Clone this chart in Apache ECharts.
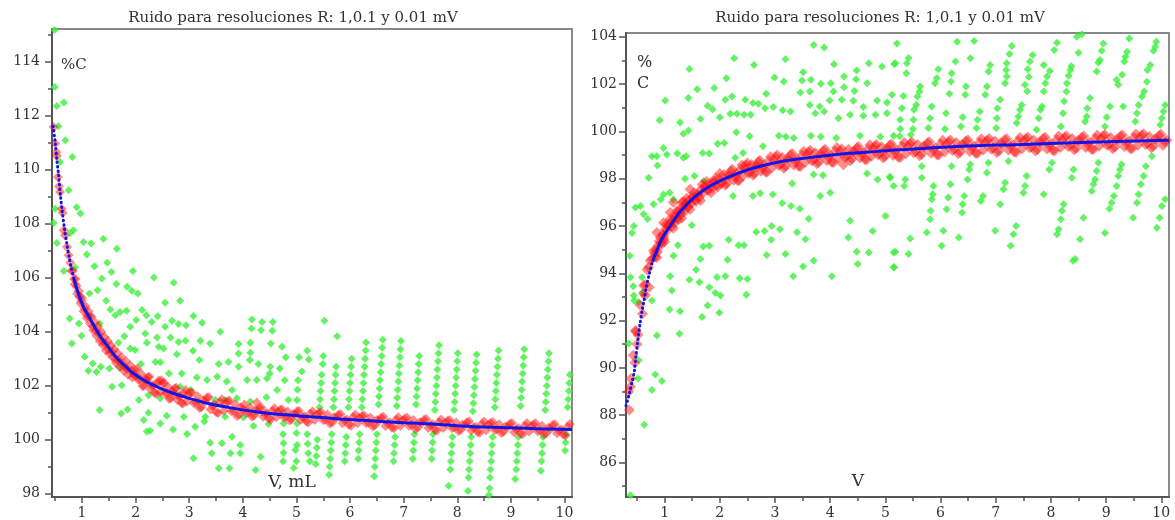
<!DOCTYPE html>
<html>
<head>
<meta charset="utf-8">
<script src="https://cdn.jsdelivr.net/npm/echarts@6/dist/echarts.min.js"></script>
<style>html,body{margin:0;padding:0;background:#fff}#c{width:1175px;height:520px}</style>
</head>
<body>
<div id="c"></div>
<script>
var titleText = 'Ruido para resoluciones R: 1,0.1 y 0.01 mV';
var xTicks = [1,2,3,4,5,6,7,8,9,10];
var yTicksLeft = [98,100,102,104,106,108,110,112,114];
var yTicksRight = [86,88,90,92,94,96,98,100,102,104];

// Left chart: resolution 1 mV (green)
var greenLeft = [
[0.49,115.16],[0.49,113.05],[0.53,112.35],[0.66,112.48],[0.56,111.6],[0.69,111.08],[0.82,110.46],[0.59,110.28],
[0.75,109.23],[0.5,108.55],[0.9,108.6],[0.97,108.37],[0.47,108.02],[0.84,107.75],[0.78,107.65],[0.53,107.28],[1.03,107.32],[1.17,107.26],[1.4,107.44],[1.65,107.07],[1.09,106.85],[0.66,106.24],[0.87,106.37],[1.23,106.42],[1.47,106.55],[1.55,106.21],[1.95,106.24],[1.37,105.97],[2.34,106.0],[2.71,105.81],[1.64,105.76],[1.84,105.66],[1.93,105.51],[2.04,105.41],[1.14,105.41],[1.29,105.53],[1.45,105.14],[2.55,105.07],[2.83,105.14],[1.53,104.82],[1.71,104.73],[1.83,104.77],[1.62,104.61],[2.12,104.8],[2.2,104.61],[2.41,104.57],[3.08,104.58],[0.77,104.49],[0.94,104.3],[1.33,104.3],[2.01,104.43],[2.3,104.36],[2.68,104.4],[2.8,104.28],[2.94,104.24],[3.24,104.33],[3.58,104.0],[1.9,104.18],[0.99,103.85],[2.55,104.18],[1.79,103.83],[2.18,103.93],[2.4,103.78],[2.65,103.78],[2.8,103.62],[2.93,103.66],[3.21,103.66],[3.39,103.56],[4.17,104.45],[4.36,104.36],[4.56,104.36],[4.16,104.12],[4.34,104.05],[4.55,104.03],[0.81,103.56],[1.68,103.59],[1.9,103.38],[1.99,103.32],[2.21,103.59],[2.43,103.44],[2.52,103.38],[2.77,103.16],[3.07,103.29],[3.19,102.95],[3.55,102.8],[3.73,102.88],[3.92,103.54],[4.14,103.59],[4.52,103.56],[4.73,103.44],[3.92,103.19],[4.14,103.22],[4.29,102.8],[4.51,102.7],[4.69,102.64],[3.92,102.7],[4.13,102.95],[4.5,102.45],[5.2,103.29],[5.23,102.97],[5.1,102.52],[1.05,103.07],[1.2,102.82],[1.12,102.55],[1.27,102.51],[1.35,102.7],[1.51,102.64],[1.71,102.67],[2.1,102.8],[2.37,102.88],[2.46,102.87],[2.62,102.45],[2.86,102.45],[3.14,102.3],[3.33,102.21],[3.52,102.33],[3.7,102.15],[3.8,101.84],[4.08,102.21],[4.26,102.21],[4.45,102.27],[4.64,101.84],[1.56,101.96],[1.74,102.02],[2.06,101.47],[2.24,101.65],[2.46,101.53],[2.83,101.96],[3.02,101.84],[3.17,101.41],[3.49,101.47],[3.67,101.47],[3.89,101.53],[4.14,101.41],[4.44,101.57],[4.85,101.47],[5.01,101.47],[1.33,101.1],[1.73,100.97],[1.85,101.12],[2.24,101.0],[2.58,100.89],[2.9,100.85],[3.3,100.85],[3.67,100.85],[4.01,100.83],[4.2,100.51],[4.48,100.58],[4.76,100.6],[5.01,100.6],[2.15,100.73],[2.46,100.6],[2.21,100.3],[2.27,100.33],[2.7,100.38],[2.96,100.21],[3.11,100.48],[3.28,100.67],[3.39,99.89],[3.61,99.87],[3.8,100.11],[3.95,99.8],[4.76,99.87],[5.01,99.8],[4.98,99.62],[4.76,99.52],[3.77,99.5],[3.95,99.5],[3.42,99.5],[4.33,99.37],[3.08,99.31],[3.55,98.94],[3.75,98.94],[4.24,98.88],[4.8,103.05],[4.78,102.2],[5.05,103.05],[5.03,102.2],[5.02,101.85],[4.75,100.2],[5.0,100.25],[4.75,99.2],[5.0,99.2],[4.95,98.95],[5.25,99.2],[5.22,99.5],[5.2,100.2],[5.21,99.85],
[5.52,104.4],[5.76,103.83],
[5.5,103.1],[5.49,102.8],[5.47,102.4],[5.46,102.1],[5.45,101.8],[5.44,101.5],[5.43,101.2],[5.39,100.0],[5.38,99.7],[5.37,99.4],[5.36,99.1],
[5.74,102.7],[5.73,102.4],[5.72,102.1],[5.71,101.8],[5.7,101.5],[5.69,101.2],[5.66,100.2],[5.65,99.9],[5.64,99.6],[5.63,99.3],[5.62,99.0],[5.61,98.7],
[6.03,103.0],[6.02,102.7],[6.01,102.4],[6.0,102.1],[5.99,101.8],[5.98,101.5],[5.97,101.2],[5.93,100.1],[5.92,99.8],[5.91,99.5],[5.9,99.2],
[6.3,103.6],[6.29,103.3],[6.28,103.0],[6.27,102.7],[6.26,102.4],[6.25,102.1],[6.24,101.8],[6.23,101.5],[6.22,101.2],[6.18,100.2],[6.17,99.9],[6.16,99.6],[6.15,99.3],
[6.61,103.7],[6.6,103.4],[6.59,103.1],[6.58,102.8],[6.57,102.5],[6.56,102.2],[6.55,101.9],[6.54,101.6],[6.53,101.3],[6.5,100.2],[6.49,99.9],[6.48,99.6],[6.47,99.3],[6.46,99.0],[6.45,98.65],
[6.95,103.65],[6.94,103.35],[6.93,103.05],[6.92,102.75],[6.91,102.45],[6.9,102.15],[6.89,101.85],[6.88,101.55],[6.87,101.25],[6.84,100.1],[6.83,99.8],[6.82,99.5],[6.81,99.2],
[7.29,103.1],[7.28,102.8],[7.27,102.5],[7.26,102.2],[7.25,101.9],[7.24,101.6],[7.23,101.3],[7.2,100.2],[7.19,99.9],[7.18,99.6],[7.17,99.3],
[7.66,103.5],[7.65,103.2],[7.64,102.9],[7.63,102.6],[7.62,102.3],[7.61,102.0],[7.6,101.7],[7.59,101.4],[7.58,101.1],[7.55,100.2],[7.54,99.9],[7.53,99.6],[7.52,99.3],
[8.01,103.2],[8.0,102.9],[7.99,102.6],[7.98,102.3],[7.97,102.0],[7.96,101.7],[7.95,101.4],[7.94,101.1],[7.91,100.1],[7.9,99.8],[7.89,99.5],[7.88,99.2],[7.87,98.9],[7.84,98.3],
[8.36,103.15],[8.35,102.85],[8.34,102.55],[8.33,102.25],[8.32,101.95],[8.31,101.65],[8.3,101.35],[8.29,101.05],[8.26,100.1],[8.25,99.8],[8.24,99.5],[8.23,99.2],[8.22,98.9],[8.21,98.6],[8.2,98.1],
[8.77,103.3],[8.76,103.0],[8.75,102.7],[8.74,102.4],[8.73,102.1],[8.72,101.8],[8.71,101.5],[8.7,101.2],[8.66,100.1],[8.65,99.8],[8.64,99.5],[8.63,99.2],[8.62,98.9],[8.61,98.6],[8.6,98.2],[8.59,97.95],
[9.25,103.35],[9.24,103.05],[9.23,102.75],[9.22,102.45],[9.21,102.15],[9.2,101.85],[9.19,101.55],[9.18,101.25],[9.14,100.1],[9.13,99.8],[9.12,99.5],[9.11,99.2],[9.1,98.9],[9.08,98.55],
[9.71,103.2],[9.7,102.9],[9.69,102.6],[9.68,102.3],[9.67,102.0],[9.66,101.7],[9.65,101.4],[9.64,101.1],[9.6,100.1],[9.59,99.8],[9.58,99.5],[9.57,99.2],[9.56,98.85],
[10.1,102.4],[10.09,102.1],[10.08,101.8],[10.07,101.5],[10.06,101.2],[10.03,100.2],[10.02,99.9],[10.01,99.6]
];

// Left chart: resolution 0.1 mV (red)
var redLeft = [
[0.47,111.57],[0.5,110.96],[0.52,110.65],[0.53,110.5],[0.55,109.72],[0.57,109.38],[0.59,109.17],[0.62,108.55],[0.64,108.4],[0.66,107.75],[0.68,107.57],[0.72,107.13],[0.75,106.83],[0.78,106.55],[0.8,106.25],
[0.83,106.25],[0.86,105.75],[0.88,105.95],[0.91,105.4],[0.94,105.5],[0.97,105.05],[1.0,105.25],[1.03,104.75],[1.06,104.95],[1.09,104.5],[1.12,104.75],[1.15,104.3],[1.18,104.55],[1.21,104.05],[1.24,104.35],[1.27,103.85],[1.3,104.2],[1.33,103.65],[1.36,104.0],[1.39,103.5],[1.42,103.8],[1.45,103.3],[1.48,103.65],[1.51,103.2],[1.54,103.5],[1.57,103.05],[1.6,103.35],[1.63,102.85],[1.66,103.2],[1.7,102.7],[1.74,103.05],[1.78,102.55],[1.82,102.9],[1.86,102.4],[1.9,102.75],[1.94,102.3],[1.98,102.6],
[0.85,105.95],[0.9,105.7],[0.95,105.3],[0.99,105.15],[1.05,104.85],[1.1,104.6],[1.14,104.55],[1.2,104.2],[1.26,104.05],[1.32,103.9],[1.38,103.65],[1.44,103.55],[1.5,103.35],[1.56,103.25],[1.62,103.0],[1.68,102.95],[1.72,102.85],[1.8,102.7],[1.84,102.62],[1.92,102.55],[1.96,102.42],[2.0,102.38],
[2.03,102.63],[2.08,102.23],[2.13,101.98],[2.18,102.25],[2.23,102.32],[2.28,101.87],[2.33,102.02],[2.38,101.7],[2.43,102.19],[2.48,102.2],[2.53,102.11],[2.58,101.73],[2.63,101.51],[2.68,101.8],[2.73,101.9],[2.78,101.47],[2.83,101.64],[2.88,101.33],[2.93,101.84],[2.98,101.65],[3.05,101.76],[3.12,101.38],[3.19,101.17],[3.26,101.46],[3.33,101.56],[3.4,101.12],[3.47,101.3],[3.54,100.99],[3.61,101.5],[3.68,101.32],[3.75,101.45],[3.82,101.08],[3.89,100.88],[3.96,101.19],
[2.055,102.21],[2.105,102.43],[2.155,102.0],[2.205,102.17],[2.255,102.33],[2.305,102.0],[2.355,101.74],[2.405,102.09],[2.455,101.76],[2.505,102.08],[2.555,101.7],[2.605,101.95],[2.655,101.54],[2.705,101.75],[2.755,101.92],[2.805,101.61],[2.855,101.37],[2.905,101.73],[2.955,101.41],[3.015,101.74],[3.085,101.35],[3.155,101.61],[3.225,101.2],[3.295,101.41],[3.365,101.57],[3.435,101.26],[3.505,101.02],[3.575,101.39],[3.645,101.07],[3.715,101.42],[3.785,101.05],[3.855,101.31],[3.925,100.92],[3.995,101.14],
[4.03,101.3],[4.1,101.02],[4.17,100.86],[4.24,101.09],[4.26,101.38],[4.31,101.17],[4.38,100.85],[4.45,100.99],[4.52,100.75],[4.59,101.16],[4.66,101.02],[4.73,101.13],[4.8,100.86],[4.87,100.71],[4.94,100.95],[5.01,101.04],[5.08,100.73],[5.15,100.87],[5.22,100.64],[5.3,101.05],[5.38,100.92],[5.46,101.03],[5.54,100.75],[5.62,100.6],[5.7,100.83],[5.78,100.92],[5.86,100.61],[5.94,100.75],[6.02,100.52],[6.1,100.93],[6.18,100.8],[6.26,100.91],[6.34,100.64],[6.42,100.49],[6.5,100.73],[6.58,100.82],[6.66,100.51],[6.74,100.65],[6.82,100.42],[6.9,100.83],[6.98,100.71],[7.06,100.82],[7.14,100.55],[7.22,100.4],[7.3,100.65],[7.38,100.74],[7.46,100.43],[7.54,100.57],[7.62,100.34],[7.7,100.75],[7.78,100.62],[7.86,100.73],[7.94,100.46],[8.02,100.32],[8.1,100.56],[8.18,100.65],[8.26,100.34],[8.34,100.48],[8.42,100.26],[8.5,100.67],[8.58,100.54],[8.66,100.66],[8.74,100.39],[8.82,100.25],[8.9,100.49],[8.98,100.59],[9.06,100.28],[9.14,100.43],[9.22,100.2],[9.3,100.62],[9.38,100.49],[9.46,100.61],[9.54,100.34],[9.62,100.2],[9.7,100.44],[9.78,100.54],[9.86,100.24],[9.94,100.38],[10.02,100.16],[10.1,100.58],
[4.065,100.99],[4.135,101.19],[4.205,100.89],[4.275,101.05],[4.345,101.19],[4.415,100.96],[4.485,100.78],[4.555,101.07],[4.625,100.83],[4.695,101.1],[4.765,100.83],[4.835,101.04],[4.905,100.75],[4.975,100.92],[5.045,101.07],[5.115,100.84],[5.185,100.67],[5.26,100.96],[5.34,100.73],[5.42,101.0],[5.5,100.72],[5.58,100.93],[5.66,100.63],[5.74,100.8],[5.82,100.95],[5.9,100.72],[5.98,100.55],[6.06,100.84],[6.14,100.61],[6.22,100.88],[6.3,100.61],[6.38,100.82],[6.46,100.53],[6.54,100.7],[6.62,100.85],[6.7,100.62],[6.78,100.45],[6.86,100.74],[6.94,100.51],[7.02,100.78],[7.1,100.52],[7.18,100.73],[7.26,100.44],[7.34,100.62],[7.42,100.77],[7.5,100.54],[7.58,100.37],[7.66,100.66],[7.74,100.43],[7.82,100.7],[7.9,100.43],[7.98,100.64],[8.06,100.36],[8.14,100.53],[8.22,100.68],[8.3,100.45],[8.38,100.28],[8.46,100.58],[8.54,100.35],[8.62,100.62],[8.7,100.36],[8.78,100.57],[8.86,100.29],[8.94,100.46],[9.02,100.62],[9.1,100.39],[9.18,100.23],[9.26,100.52],[9.34,100.3],[9.42,100.57],[9.5,100.31],[9.58,100.52],[9.66,100.24],[9.74,100.41],[9.82,100.57],[9.9,100.34],[9.98,100.18],[10.06,100.48]
];

// Left chart: resolution 0.01 mV (blue)
var blueLeftDots = [[0.46,111.6],[0.5,111.0],[0.53,110.35],[0.56,109.85],[0.6,109.0],[0.63,108.45],[0.67,107.85],[0.72,107.2],[0.76,106.75],[0.8,106.35],[0.84,106.03]];
var blueLeft = [[0.84,106.03],[0.9,105.6],[0.96,105.25],[1.03,104.9],[1.1,104.65],[1.15,104.48],[1.25,104.12],[1.35,103.8],[1.5,103.4],[1.65,103.02],[1.8,102.73],[1.96,102.45],[2.2,102.15],[2.4,101.96],[2.7,101.72],[3.0,101.53],[3.4,101.32],[3.83,101.16],[4.3,101.02],[4.8,100.92],[5.26,100.85],[5.8,100.77],[6.3,100.71],[7.0,100.63],[7.5,100.58],[8.0,100.52],[8.5,100.47],[9.0,100.44],[9.5,100.41],[10.14,100.38]];

// Right chart: resolution 1 mV (green)
var greenRight = [
[3.7,103.65],[3.89,103.55],[5.21,103.72],[2.26,103.09],[3.19,103.05],[2.62,102.81],[1.45,102.64],[4.07,102.84],[4.7,102.88],[4.94,102.74],[5.16,102.85],[3.51,102.5],[2.99,102.28],[3.16,102.11],[2.12,102.25],[3.49,102.15],[3.65,102.18],[3.83,102.01],[4.01,102.04],[4.25,102.32],[4.48,102.57],[4.47,102.2],[4.67,102.04],[1.59,101.78],[1.9,101.83],[3.46,101.64],[3.63,101.69],[4.06,101.69],[4.25,101.87],[4.44,101.71],[2.84,101.59],[1.01,101.31],[1.43,101.41],[2.1,101.34],[2.22,101.48],[2.46,101.34],[2.6,101.2],[2.7,101.17],[2.82,100.98],[2.97,101.03],[3.14,100.89],[3.28,100.84],[3.63,101.12],[3.81,101.05],[3.99,101.31],[4.21,101.34],[4.42,101.29],[4.6,101.03],[4.85,101.31],[5.03,101.22],[1.78,101.08],[1.87,100.94],[2.19,100.75],[2.31,100.75],[2.44,100.7],[2.56,100.7],[1.28,100.38],[0.91,100.47],[1.65,100.52],[2.0,100.6],[3.73,100.77],[3.89,100.84],[4.15,100.56],[4.36,100.7],[4.6,100.66],[4.82,100.7],[5.03,100.77],[1.34,99.9],[1.43,100.04],[1.96,99.48],[2.08,99.51],[2.3,99.96],[2.54,99.79],[3.07,99.82],[3.2,99.77],[3.34,99.72],[3.65,99.82],[3.83,99.77],[4.11,99.72],[4.54,99.82],[4.91,99.77],[5.15,99.82],[2.78,99.37],[0.98,99.3],[0.77,98.95],[0.86,98.95],[1.04,99.02],[1.23,99.06],[1.34,98.88],[1.39,98.95],[1.69,99.09],[1.81,99.06],[2.28,98.88],[2.42,99.09],[0.87,98.56],[1.37,98.0],[1.54,98.11],[1.71,97.9],[3.7,98.18],[3.87,98.14],[4.67,98.22],[4.86,97.97],[5.08,98.08],[0.71,98.04],[0.98,97.33],[0.93,97.12],[1.09,97.41],[1.16,97.12],[0.8,96.92],[0.56,96.85],[0.47,96.78],[0.62,96.5],[0.69,96.29],[0.44,96.0],[0.41,95.7],[0.37,94.74],[1.49,96.03],[2.24,97.27],[2.6,97.27],[2.73,97.38],[2.96,97.33],[3.13,96.96],[3.29,96.85],[3.45,96.73],[3.61,96.31],[3.31,97.8],[3.82,97.27],[4.0,97.41],[2.66,95.75],[2.81,95.79],[2.94,96.0],[3.09,95.86],[3.4,95.73],[3.55,95.44],[2.93,95.42],[2.34,95.19],[2.16,95.42],[1.81,95.16],[1.7,95.13],[1.24,95.19],[1.16,94.74],[1.65,94.6],[2.14,94.57],[2.44,95.19],[2.85,94.77],[3.19,94.81],[4.36,96.22],[4.33,95.51],[4.77,95.79],[5.0,96.42],[5.15,94.88],[4.48,94.91],[4.7,94.88],[5.15,94.25],[4.5,94.39],[3.7,94.53],[3.51,94.29],[3.33,93.87],[4.03,93.87],[1.57,94.15],[1.45,93.73],[1.63,93.62],[1.1,93.87],[1.95,93.83],[2.1,93.87],[2.36,93.79],[2.5,93.76],[1.81,93.41],[1.92,93.17],[2.01,93.06],[2.48,93.09],[1.13,93.27],[1.78,92.64],[1.09,92.47],[1.28,92.39],[1.68,92.15],[1.99,92.33],[0.44,93.06],[0.53,92.78],[0.77,92.85],[0.59,93.83],[0.86,91.37],[1.27,91.44],[0.35,91.03],
[0.53,90.32],[0.52,89.55],[0.83,89.72],[0.95,89.44],[0.77,89.06],[0.63,87.59],[0.38,84.61],[0.6,93.2],[0.38,93.83],[0.43,93.45],[0.45,92.85],[8.4,94.53],
[6.3,103.79],[6.61,103.82],[8.56,104.11],[9.42,103.93],[9.91,103.79],[9.89,103.58],[9.86,103.41],[7.29,103.61],[7.25,103.27],[8.11,103.75],[8.06,103.44],[7.67,103.23],[7.62,102.95],[7.58,102.63],[8.5,103.33],[8.95,103.72],[8.92,103.41],[8.89,103.02],[8.86,102.91],[8.83,102.53],[9.38,103.37],[9.35,103.16],[9.33,102.95],[9.29,102.39],[9.22,101.97],[9.8,102.81],[9.75,102.6],[9.74,102.1],[9.69,101.69],[9.65,101.47],[9.59,101.12],[9.56,100.77],[9.53,100.42],[10.07,101.12],[10.04,100.84],[10.01,100.56],[9.98,100.28],[5.18,102.88],[5.39,102.88],[5.42,103.1],[5.38,102.46],[5.12,101.55],[5.33,101.5],[5.3,100.98],[5.27,100.49],[5.27,100.1],[5.26,99.79],[5.63,101.9],[5.62,101.69],[5.58,101.47],[5.56,101.12],[5.52,100.91],[5.51,100.49],[5.5,100.1],[5.46,99.86],[5.96,102.63],[5.93,102.25],[5.9,102.04],[5.84,101.05],[5.81,100.56],[5.78,100.14],[6.2,102.46],[6.19,102.11],[6.16,101.59],[6.1,100.77],[6.08,100.1],[6.27,102.95],[6.54,103.09],[6.46,101.9],[6.45,101.55],[6.4,100.6],[6.37,100.21],[6.9,102.81],[6.87,102.53],[6.84,101.9],[6.81,101.55],[6.71,100.84],[6.67,100.49],[6.65,100.14],[7.2,102.32],[7.17,102.04],[7.08,101.34],[7.03,100.98],[7.02,100.56],[7.01,100.14],[7.47,101.12],[7.44,100.91],[7.41,100.63],[7.38,100.35],[7.53,101.97],[7.87,102.81],[7.93,102.32],[7.9,102.04],[7.87,101.69],[7.84,101.05],[7.81,100.91],[7.78,100.56],[7.74,100.07],[8.32,102.35],[8.29,102.04],[8.28,101.69],[8.24,101.27],[8.22,100.77],[8.18,100.21],[8.71,101.41],[8.66,100.98],[8.65,100.63],[8.62,100.42],[9.19,102.18],[9.07,101.05],[9.01,100.6],[8.98,100.21],[9.31,101.05],[8.47,104.0],[7.2,102.88],[7.19,102.6],[7.6,102.3],[7.57,101.7],[7.98,102.55],[8.37,102.75],[8.35,102.6],
[5.09,98.04],[5.15,97.69],[5.36,97.97],[5.34,97.69],[5.66,98.53],[5.66,98.04],[5.87,97.69],[5.86,97.34],[5.84,97.13],[5.82,96.64],[5.81,96.28],[5.75,95.72],[6.02,95.16],[6.05,95.8],[6.11,96.71],[6.14,97.2],[6.18,97.76],[6.2,98.53],[6.33,95.51],[6.39,96.57],[6.4,96.92],[6.43,97.27],[6.49,97.97],[6.52,98.39],[6.54,98.6],[6.73,97.06],[6.77,97.27],[6.84,98.25],[6.87,98.67],[6.99,95.8],[7.08,96.92],[7.14,97.55],[7.17,97.83],[7.23,98.74],[7.27,95.16],[7.32,95.65],[7.37,96.0],[7.5,97.41],[7.53,97.69],[7.56,98.11],[7.87,97.34],[7.97,98.39],[8.02,98.67],[8.11,95.65],[8.14,95.86],[8.18,96.28],[8.2,96.64],[8.23,96.92],[8.38,98.04],[8.41,98.39],[8.44,94.6],[8.53,95.44],[8.59,96.35],[8.74,97.48],[8.77,97.76],[8.8,97.97],[8.83,98.32],[8.86,98.67],[8.98,95.7],[9.06,96.73],[9.1,96.98],[9.14,97.27],[9.19,97.69],[9.22,98.11],[9.25,98.39],[9.28,98.6],[9.49,96.35],[9.56,96.98],[9.59,97.34],[9.63,97.76],[9.68,98.11],[9.72,98.53],[9.92,95.93],[9.97,96.35],[10.01,96.84],[10.07,97.13],[9.83,98.95],[5.45,95.47],[5.18,94.91],[5.42,94.81],[5.16,94.25]
];

// Right chart: resolution 0.1 mV (red)
var redRight = [
[0.36,88.22],[0.35,88.99],[0.38,89.2],[0.39,89.55],[0.43,90.53],[0.46,90.22],[0.48,91.54],[0.5,91.0],[0.52,91.4],[0.47,91.58],[0.55,92.67],[0.6,92.29],[0.62,93.13],[0.62,93.48],[0.65,93.51],[0.65,93.06],[0.72,93.41],[0.68,94.15],[0.71,94.25],[0.74,94.53],[0.77,94.6],
[0.8,94.95],[0.83,94.7],[0.86,94.67],[0.88,95.16],[0.92,95.52],[0.95,95.23],[0.98,95.57],[1.0,95.33],[1.03,96.07],[1.06,96.0],[1.1,96.3],[1.13,96.0],[1.16,95.9],[1.19,96.38],[1.22,96.62],[1.25,96.26],[1.28,96.58],[1.31,96.33],[1.34,97.02],[1.37,96.92],[1.4,97.17],[1.43,96.83],[1.46,96.7],[1.5,97.18],[1.53,97.39],[1.57,97.03],[1.6,97.32],[1.65,97.08],[1.68,97.75],[1.72,97.64],[1.76,97.88],[1.8,97.54],[1.84,97.4],[1.88,97.83],[1.92,98.02],[1.96,97.64],
[1.31,96.99],[1.46,97.55],[1.16,96.99],[0.98,96.14],[0.86,95.72],[1.1,96.57],
[0.815,94.85],[0.845,95.0],[0.87,94.9],[0.9,95.35],[0.935,95.3],[0.965,95.65],[0.99,95.45],[1.015,95.85],[1.045,95.8],[1.08,96.05],[1.115,96.15],[1.145,96.25],[1.175,96.15],[1.205,96.5],[1.235,96.35],[1.265,96.7],[1.295,96.5],[1.325,96.75],[1.355,96.6],[1.385,96.95],[1.415,96.8],[1.445,97.1],[1.48,96.95],[1.515,97.25],[1.55,97.1],[1.585,97.35],[1.625,97.2],[1.665,97.55],[1.7,97.4],[1.74,97.7],[1.78,97.5],[1.82,97.8],[1.86,97.6],[1.9,97.9],[1.94,97.7],[1.98,98.0],
[2.0,98.22],[2.05,97.87],[2.1,97.72],[2.15,98.15],[2.2,98.33],[2.25,97.93],[2.3,98.2],[2.35,97.92],[2.4,98.58],[2.45,98.44],[2.5,98.66],[2.55,98.3],[2.6,98.14],[2.65,98.55],[2.7,98.72],[2.75,98.31],[2.8,98.56],[2.86,98.28],[2.92,98.93],[2.98,98.79],[3.04,99.0],[3.1,98.62],[3.16,98.44],[3.22,98.84],[3.28,99.0],[3.34,98.58],[3.4,98.82],[3.46,98.52],[3.52,99.16],[3.58,99.0],[3.64,99.2],[3.7,98.81],[3.76,98.63],[3.82,99.03],[3.88,99.18],[3.94,98.76],[4.0,98.99],[4.06,98.68],[4.12,99.32],[4.18,99.15],[4.24,98.59],[4.3,98.95],[4.36,98.76],[4.42,99.15],[4.48,99.3],[4.54,98.87],[4.6,99.1],[4.66,98.8],[4.72,99.43],[4.78,99.26],[4.84,99.45],[4.9,99.06],[4.96,98.87],[5.02,99.26],[5.08,99.41],[5.14,98.98],[5.2,99.21],[5.27,98.9],[5.34,99.53],[5.41,99.36],[5.48,99.55],[5.55,99.16],[5.62,98.97],[5.69,99.36],[5.76,99.51],[5.83,99.08],[5.9,99.31],[5.97,99.0],[6.04,99.62],[6.11,99.45],[6.18,99.64],[6.25,99.25],[6.32,99.05],[6.39,99.44],[6.46,99.59],[6.53,99.15],[6.6,99.38],[6.67,99.06],[6.74,99.69],[6.81,99.51],[6.88,99.7],[6.95,99.31],[7.02,99.11],[7.09,99.5],[7.16,99.64],[7.23,99.21],[7.3,99.43],[7.37,99.12],[7.44,99.74],[7.51,99.57],[7.58,99.76],[7.65,99.36],[7.72,99.17],[7.79,99.55],[7.86,99.7],[7.93,99.26],[8.0,99.49],[8.07,99.18],[8.14,99.8],[8.21,99.63],[8.28,99.81],[8.35,99.42],[8.42,99.22],[8.49,99.61],[8.56,99.75],[8.63,99.32],[8.7,99.54],[8.77,99.23],[8.84,99.85],[8.91,99.68],[8.98,99.86],[9.05,99.46],[9.12,99.27],[9.19,99.65],[9.26,99.8],[9.33,99.36],[9.4,99.58],[9.47,99.27],[9.54,99.89],[9.61,99.72],[9.68,99.9],[9.75,99.5],[9.82,99.31],[9.89,99.69],[9.96,99.83],[10.03,99.4],[10.1,99.62],
[2.025,97.8],[2.075,98.18],[2.125,97.8],[2.175,98.12],[2.225,98.4],[2.275,98.12],[2.325,97.92],[2.375,98.41],[2.425,98.12],[2.475,98.58],[2.525,98.23],[2.575,98.6],[2.625,98.21],[2.675,98.51],[2.725,98.78],[2.775,98.48],[2.83,98.28],[2.89,98.76],[2.95,98.47],[3.01,98.92],[3.07,98.56],[3.13,98.91],[3.19,98.51],[3.25,98.8],[3.31,99.06],[3.37,98.75],[3.43,98.53],[3.49,99.0],[3.55,98.69],[3.61,99.13],[3.67,98.75],[3.73,99.1],[3.79,98.7],[3.85,98.98],[3.91,99.24],[3.97,98.92],[4.03,98.7],[4.09,99.16],[4.15,98.84],[4.21,99.27],[4.27,98.9],[4.33,99.24],[4.39,98.83],[4.45,99.11],[4.51,99.36],[4.57,99.04],[4.63,98.81],[4.69,99.27],[4.75,98.95],[4.81,99.38],[4.87,99.01],[4.93,99.35],[4.99,98.94],[5.05,99.22],[5.11,99.47],[5.17,99.14],[5.235,98.91],[5.305,99.37],[5.375,99.05],[5.445,99.48],[5.515,99.1],[5.585,99.44],[5.655,99.03],[5.725,99.31],[5.795,99.56],[5.865,99.24],[5.935,99.01],[6.005,99.47],[6.075,99.14],[6.145,99.57],[6.215,99.19],[6.285,99.53],[6.355,99.12],[6.425,99.39],[6.495,99.64],[6.565,99.31],[6.635,99.08],[6.705,99.53],[6.775,99.21],[6.845,99.63],[6.915,99.25],[6.985,99.59],[7.055,99.17],[7.125,99.45],[7.195,99.69],[7.265,99.37],[7.335,99.13],[7.405,99.59],[7.475,99.27],[7.545,99.69],[7.615,99.31],[7.685,99.64],[7.755,99.23],[7.825,99.5],[7.895,99.75],[7.965,99.43],[8.035,99.19],[8.105,99.65],[8.175,99.32],[8.245,99.75],[8.315,99.36],[8.385,99.7],[8.455,99.28],[8.525,99.56],[8.595,99.8],[8.665,99.48],[8.735,99.24],[8.805,99.7],[8.875,99.37],[8.945,99.8],[9.015,99.41],[9.085,99.74],[9.155,99.33],[9.225,99.6],[9.295,99.85],[9.365,99.52],[9.435,99.28],[9.505,99.74],[9.575,99.41],[9.645,99.84],[9.715,99.45],[9.785,99.78],[9.855,99.37],[9.925,99.64],[9.995,99.88],[10.065,99.56]
];

// Right chart: resolution 0.01 mV (blue)
var blueRightDots = [[0.3,88.4],[0.36,88.9],[0.41,89.4],[0.45,89.85],[0.48,90.5],[0.51,91.05],[0.55,91.8],[0.59,92.4],[0.63,92.9],[0.67,93.45],[0.72,93.95],[0.78,94.5]];
var blueRight = [[0.78,94.5],[0.84,94.85],[0.95,95.45],[1.1,96.0],[1.28,96.6],[1.53,97.2],[1.83,97.7],[2.19,98.1],[2.61,98.45],[3.09,98.72],[3.58,98.88],[4.12,99.02],[4.67,99.12],[5.27,99.22],[6.3,99.36],[7.5,99.45],[8.71,99.54],[10.14,99.62]];

var FONT = 'DejaVu Serif';
var TXT = '#333';
var AX = '#555';

function xAxisCfg(idx, mn, mx) {
  return {
    gridIndex: idx, type: 'value', min: mn, max: mx,
    splitNumber: 10, minInterval: 1, maxInterval: 1,
    axisLine: {show: true, onZero: false, lineStyle: {color: AX, width: 2}},
    axisTick: {show: true, inside: false, length: 6, customValues: xTicks, lineStyle: {color: AX, width: 1.5}},
    minorTick: {show: true, splitNumber: 2, length: 4, lineStyle: {color: AX, width: 1.5}},
    splitLine: {show: false}, minorSplitLine: {show: false},
    axisLabel: {customValues: xTicks, margin: 9, fontFamily: FONT, fontSize: 14, color: TXT}
  };
}
function yAxisCfg(idx, mn, mx, ticks, margin) {
  return {
    gridIndex: idx, type: 'value', min: mn, max: mx,
    splitNumber: 9, minInterval: 2, maxInterval: 2,
    axisLine: {show: true, onZero: false, lineStyle: {color: AX, width: 2}},
    axisTick: {show: true, inside: false, length: 7, customValues: ticks, lineStyle: {color: AX, width: 1.5}},
    minorTick: {show: true, splitNumber: 2, length: 4, lineStyle: {color: AX, width: 1.5}},
    splitLine: {show: false}, minorSplitLine: {show: false},
    axisLabel: {customValues: ticks, margin: margin, fontFamily: FONT, fontSize: 14, color: TXT}
  };
}
function greenS(idx, data) {
  return {type: 'scatter', xAxisIndex: idx, yAxisIndex: idx, data: data, symbol: 'diamond', symbolSize: 8,
    itemStyle: {color: '#3bef3b'}, z: 2, silent: true};
}
function redS(idx, data, size) {
  return {type: 'scatter', xAxisIndex: idx, yAxisIndex: idx, data: data, symbol: 'diamond', symbolSize: size,
    itemStyle: {color: 'rgba(255,20,20,0.62)'}, z: 3, silent: true, large: false};
}
function blueDots(idx, data) {
  return {type: 'line', xAxisIndex: idx, yAxisIndex: idx, data: data, showSymbol: false, smooth: 0.3,
    lineStyle: {color: '#1414e8', width: 3, type: [0.5, 4], cap: 'round'}, z: 4, silent: true};
}
function blueS(idx, data) {
  return {type: 'line', xAxisIndex: idx, yAxisIndex: idx, data: data, showSymbol: false, smooth: 0.4,
    lineStyle: {color: '#1414e8', width: 3}, z: 5, silent: true};
}
function txt(x, y, s, size, align) {
  return {type: 'text', x: x, y: y, silent: true,
    style: {text: s, font: size + 'px "' + FONT + '"', fill: TXT, textAlign: align || 'center', textVerticalAlign: 'middle'}};
}

var chart = echarts.init(document.getElementById('c'), null, {renderer: 'canvas'});
chart.setOption({
  animation: false,
  backgroundColor: '#fff',
  grid: [
    {left: 52, top: 29, width: 520, height: 468, show: true, borderColor: '#888', borderWidth: 2},
    {left: 626, top: 33, width: 543, height: 466, show: true, borderColor: '#888', borderWidth: 2}
  ],
  xAxis: [xAxisCfg(0, 0.44, 10.14), xAxisCfg(1, 0.30, 10.14)],
  yAxis: [yAxisCfg(0, 97.88, 115.2, yTicksLeft, 12), yAxisCfg(1, 84.54, 104.16, yTicksRight, 9)],
  series: [
    greenS(0, greenLeft), redS(0, redLeft, 10), blueDots(0, blueLeftDots), blueS(0, blueLeft),
    greenS(1, greenRight), redS(1, redRight, 11), blueDots(1, blueRightDots), blueS(1, blueRight)
  ],
  graphic: [
    txt(293, 18, titleText, 15),
    txt(880, 18, titleText, 15),
    txt(61, 65, '%C', 15, 'left'),
    txt(292, 483, 'V, mL', 17),
    txt(637, 63, '%', 16, 'left'),
    txt(637, 84, 'C', 16, 'left'),
    txt(858, 482, 'V', 17)
  ]
});
</script>
</body>
</html>
